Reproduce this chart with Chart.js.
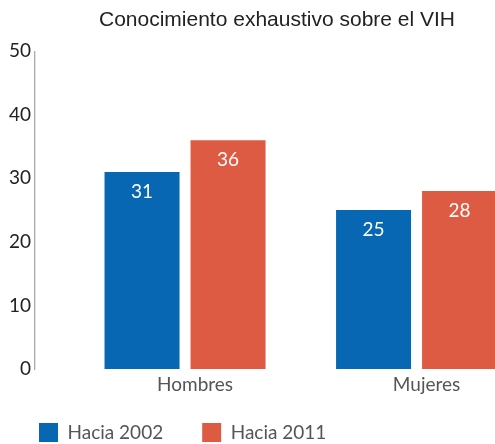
<!DOCTYPE html>
<html>
<head>
<meta charset="utf-8">
<script src="https://cdn.jsdelivr.net/npm/chart.js@4"></script>
<style>
    body { margin: 0; background: #fff; }
</style>
</head>
<body>
<canvas id="vih" width="495" height="444"></canvas>
<script>
const categories = ['Hombres', 'Mujeres'];
const hacia2002 = [31, 25];
const hacia2011 = [36, 28];
const yMax = 50;
const yStep = 10;

// white numbers inside the top of each bar
const valueLabels = {
    id: 'valueLabels',
    afterDatasetsDraw(chart) {
        const ctx = chart.ctx;
        ctx.save();
        ctx.font = '19px Lato';
        ctx.fillStyle = '#ffffff';
        ctx.textAlign = 'center';
        ctx.textBaseline = 'middle';
        chart.data.datasets.forEach((ds, i) => {
            chart.getDatasetMeta(i).data.forEach((bar, j) => {
                ctx.fillText(ds.data[j].y, bar.x, bar.y + 20);
            });
        });
        ctx.restore();
    }
};

Chart.defaults.font.family = 'Lato';

var ctx = document.getElementById('vih').getContext('2d');
var myChart = new Chart(ctx, {
    type: 'bar',
    data: {
        datasets: [{
            label: 'Hacia 2002',
            data: hacia2002.map((v, i) => ({x: i, y: v})),
            backgroundColor: '#0767b2',
            clip: false
        }, {
            label: 'Hacia 2011',
            data: hacia2011.map((v, i) => ({x: i, y: v})),
            backgroundColor: '#dd5a43',
            clip: false
        }]
    },
    options: {
        responsive: false,
        animation: false,
        categoryPercentage: 0.743,
        barPercentage: 0.872,
        layout: {
            padding: { right: 40 }
        },
        plugins: {
            title: {
                display: true,
                text: 'Conocimiento exhaustivo sobre el VIH',
                align: 'end',
                color: '#222',
                font: { family: 'Liberation Sans', size: 21, weight: 'normal' },
                padding: { top: 8, bottom: 18 }
            },
            legend: {
                position: 'bottom',
                align: 'start',
                maxHeight: 60,
                labels: {
                    boxWidth: 19,
                    boxHeight: 19,
                    padding: 39,
                    color: '#555',
                    font: { size: 19 }
                }
            },
            tooltip: { enabled: false }
        },
        scales: {
            x: {
                type: 'linear',
                min: -0.648,
                max: 1.166,
                offset: false,
                grid: { display: false, offset: false, drawTicks: false },
                border: { display: false },
                afterBuildTicks: (axis) => {
                    axis.ticks = categories.map((c, i) => ({value: i}));
                },
                // thin axis box so the legend sits close; mirrored labels are not clipped to it
                afterFit: (axis) => { axis.height = 15; },
                ticks: {
                    autoSkip: false,
                    maxRotation: 0,
                    mirror: true,
                    padding: -26.8,
                    labelOffset: 10,
                    color: '#555',
                    font: { size: 19 },
                    callback: (v) => categories[v]
                }
            },
            y: {
                min: 0,
                max: yMax,
                grid: { display: false, drawTicks: false },
                border: { display: true, color: '#aaaaaa', width: 1.3 },
                afterFit: (axis) => { axis.width = 35; },
                ticks: {
                    stepSize: yStep,
                    padding: 4,
                    color: '#222',
                    font: { size: 19 }
                }
            }
        }
    },
    plugins: [valueLabels]
});
</script>
</body>
</html>
